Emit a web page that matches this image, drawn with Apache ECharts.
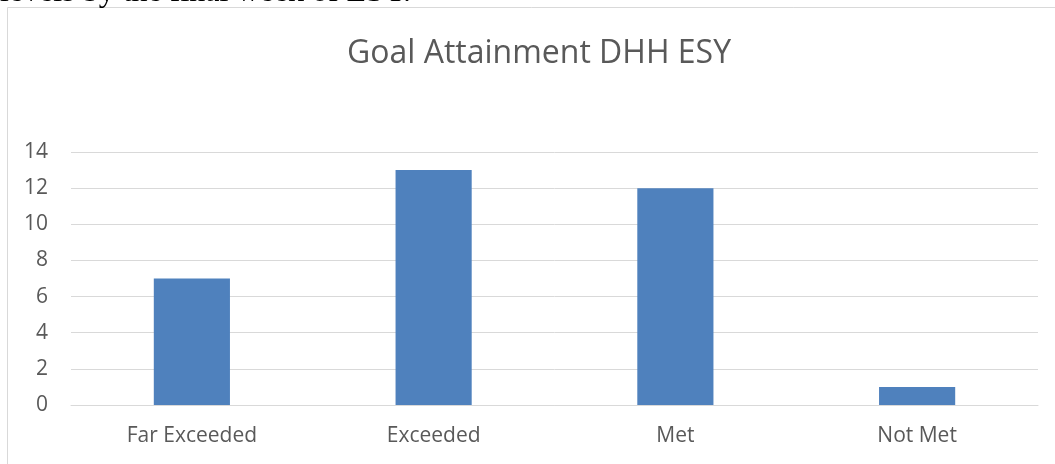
<!DOCTYPE html>
<html>
<head>
<meta charset="utf-8">
<script src="https://cdn.jsdelivr.net/npm/echarts@6/dist/echarts.min.js"></script>
<style>
  html, body { margin: 0; padding: 0; background: #fff; }
  #chart { width: 1055px; height: 464px; }
</style>
</head>
<body>
<div id="chart"></div>
<script>
var categories = ['Far Exceeded', 'Exceeded', 'Met', 'Not Met'];
var counts = [7, 13, 12, 1];
var yTicks = [0, 2, 4, 6, 8, 10, 12, 14];

var myChart = echarts.init(document.getElementById('chart'));

var option = {
    backgroundColor: '#fff',
    animation: false,
    title: {
        text: 'Goal Attainment DHH ESY',
        left: 534,
        textAlign: 'center',
        top: 33,
        textStyle: {
            color: '#595959',
            fontFamily: 'Open Sans',
            fontSize: 32,
            fontWeight: 'normal'
        }
    },
    graphic: [
        {
            type: 'rect',
            shape: { x: 7.5, y: 7.5, width: 1060, height: 470 },
            style: { fill: 'none', stroke: '#d9d9d9', lineWidth: 1 },
            silent: true
        },
        {
            type: 'text',
            x: 0,
            y: 9,
            style: {
                text: 'levels by the final week of ESY.',
                font: '32px "Liberation Serif"',
                fill: '#000',
                verticalAlign: 'bottom'
            },
            silent: true
        }
    ],
    grid: {
        left: 71,
        right: 17,
        top: 152,
        bottom: 59,
        containLabel: false
    },
    xAxis: {
        type: 'category',
        data: categories,
        axisLine: { lineStyle: { color: '#d9d9d9', width: 1 } },
        axisTick: { show: false },
        axisLabel: {
            color: '#595959',
            fontFamily: 'Open Sans',
            fontSize: 21,
            margin: 21
        }
    },
    yAxis: {
        type: 'value',
        min: yTicks[0],
        max: yTicks[yTicks.length - 1],
        interval: 2,
        axisLine: { show: false },
        axisTick: { show: false },
        splitLine: { lineStyle: { color: '#d9d9d9', width: 1 } },
        axisLabel: {
            color: '#595959',
            fontFamily: 'Open Sans',
            fontSize: 21,
            margin: 23
        }
    },
    series: [
        {
            type: 'bar',
            data: counts,
            barWidth: '31.5%',
            itemStyle: { color: '#4f81bd' }
        }
    ]
};

myChart.setOption(option);

window.addEventListener('resize', function () {
    myChart.resize();
});
</script>
</body>
</html>
